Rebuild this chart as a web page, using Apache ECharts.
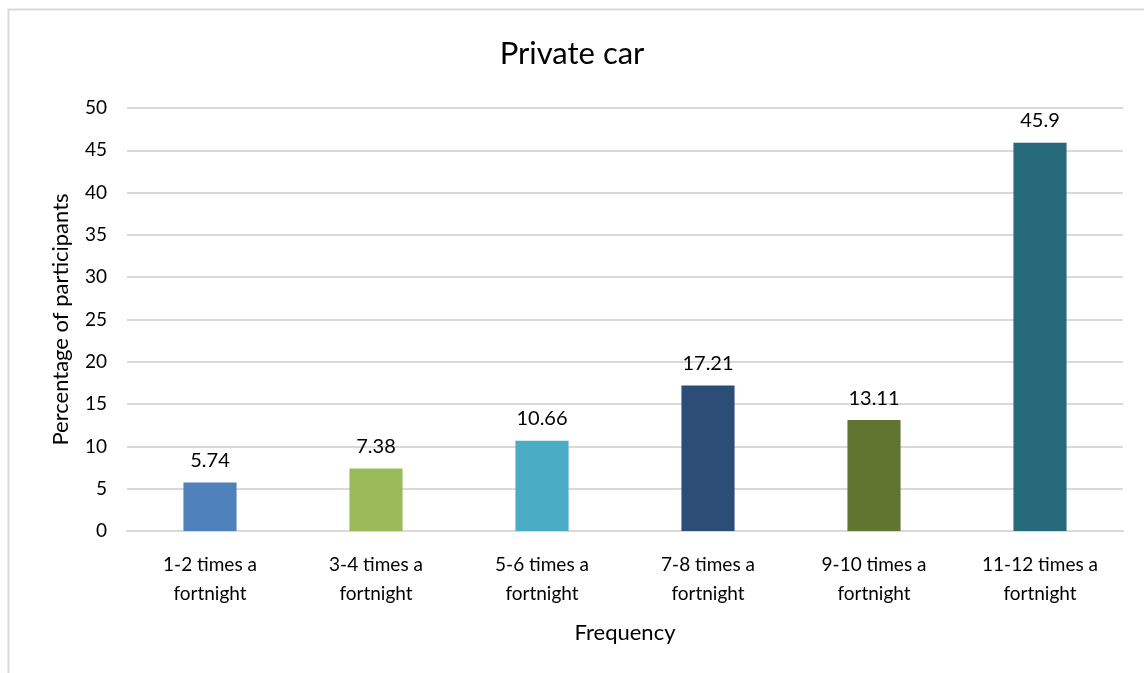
<!DOCTYPE html>
<html>
<head>
<meta charset="utf-8">
<script src="https://cdn.jsdelivr.net/npm/echarts@6/dist/echarts.min.js"></script>
<style>
  html, body { margin: 0; padding: 0; background: #fff; }
  #chart { width: 1144px; height: 673px; }
</style>
</head>
<body>
<div id="chart"></div>
<script>
// chart data
const categories = [
  '1-2 times a\nfortnight',
  '3-4 times a\nfortnight',
  '5-6 times a\nfortnight',
  '7-8 times a\nfortnight',
  '9-10 times a\nfortnight',
  '11-12 times a\nfortnight'
]
const values = [5.74, 7.38, 10.66, 17.21, 13.11, 45.9]
const barColors = ['#4F81BD', '#9BBB59', '#4BACC6', '#2C4D75', '#5F7530', '#276A7C']

const font = 'Lato, Open Sans, sans-serif'

const chart = echarts.init(document.getElementById('chart'))

chart.setOption({
  animation: false,
  backgroundColor: '#fff',
  textStyle: { fontFamily: font },
  graphic: [{
    type: 'rect',
    shape: { x: 8.5, y: 9.5, width: 1300, height: 800 },
    style: { fill: 'none', stroke: '#d9d9d9', lineWidth: 2 },
    silent: true
  }],
  title: {
    text: 'Private car',
    left: 'center',
    top: 33,
    textStyle: { fontFamily: font, fontSize: 31, fontWeight: 'normal', color: '#000' }
  },
  grid: { left: 127, right: 21, top: 108, bottom: 142 },
  xAxis: {
    type: 'category',
    data: categories,
    name: 'Frequency',
    nameLocation: 'middle',
    nameGap: 91,
    nameTextStyle: { fontSize: 22, color: '#000' },
    axisLine: { lineStyle: { color: '#d9d9d9', width: 2 } },
    axisTick: { show: false },
    axisLabel: { fontSize: 19, color: '#000', lineHeight: 29, margin: 19 }
  },
  yAxis: {
    type: 'value',
    min: 0,
    max: 50,
    interval: 5,
    name: 'Percentage of participants',
    nameLocation: 'middle',
    nameGap: 55,
    nameTextStyle: { fontSize: 22, color: '#000' },
    axisLine: { show: false },
    axisTick: { show: false },
    axisLabel: { fontSize: 19, color: '#000', margin: 20 },
    splitLine: { lineStyle: { color: '#d9d9d9', width: 2 } }
  },
  series: [{
    type: 'bar',
    barWidth: '32%',
    data: values.map((v, i) => ({ value: v, itemStyle: { color: barColors[i] } })),
    label: {
      show: true,
      position: 'top',
      distance: 12,
      fontSize: 20,
      color: '#000'
    }
  }]
})
</script>
</body>
</html>
